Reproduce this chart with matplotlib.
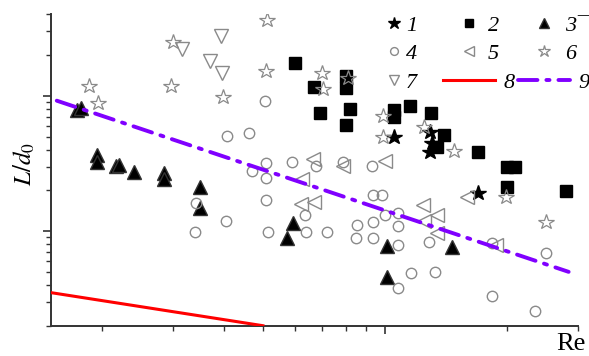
import numpy as np
import matplotlib
matplotlib.use('Agg')
import matplotlib.pyplot as plt
from matplotlib.legend_handler import HandlerLine2D

# values (Re, L/d0)
re_1 = [10530, 12910, 13060, 12910, 16970]
ld_1 = [4.97, 5.41, 4.49, 3.85, 1.91]

re_2 = [6000, 6680, 8010, 8010, 6910, 8200, 8010, 10530, 10530, 11530,
        12990, 13980, 13440, 16970, 20010, 20940, 20010, 27980]
ld_2 = [17.55, 11.66, 14.06, 11.46, 7.48, 8.01, 6.10, 7.88, 6.99, 8.43,
        7.48, 5.14, 4.19, 3.85, 2.98, 2.98, 2.12, 1.98]

re_3 = [1736, 1776, 1945, 1945, 2167, 2204, 2400, 2846, 2846, 3493,
        3493, 5929, 5728, 10110, 10110, 14640]
ld_3 = [7.88, 8.15, 3.66, 3.24, 3.03, 3.08, 2.74, 2.69, 2.43, 2.12,
        1.48, 1.146, 0.887, 0.774, 0.456, 0.761]

re_4 = [5057, 4074, 4616, 5085, 5892, 4695, 5085, 3415, 3396, 4050,
        5085, 5144, 6757, 7877, 9288, 9340, 9830, 6346, 6382, 7190,
        8528, 8480, 9340, 9340, 10000, 10770, 10770, 10770, 12840, 11590,
        13290, 10770, 18370, 24980, 18370, 23460]
ld_4 = [9.18, 5.06, 5.32, 3.19, 3.24, 2.78, 2.47, 1.61, 0.983, 1.186,
        1.70, 0.983, 3.03, 3.24, 3.03, 1.85, 1.85, 1.31, 0.983, 0.983,
        1.108, 0.887, 1.166, 0.887, 1.31, 1.36, 1.089, 0.788, 0.829, 0.489,
        0.497, 0.378, 0.815, 0.687, 0.330, 0.2555]

re_5 = [6643, 7877, 10000, 6239, 6203, 6680, 12410, 13440, 12480, 13440, 15940, 18790]
ld_5 = [3.41, 3.03, 3.30, 2.43, 1.585, 1.64, 1.558, 1.31, 1.186, 0.966, 1.786, 0.788]

re_6 = [2996, 1858, 1956, 2962, 3981, 5113, 5085, 6990, 7030, 8100,
        9887, 9887, 12480, 14800, 19900, 24980]
ld_6 = [25.1, 11.86, 8.87, 11.86, 9.83, 36.6, 15.32, 14.8, 11.27, 13.6,
        7.11, 4.97, 5.89, 3.91, 1.786, 1.166]

re_7 = [3154, 3936, 3698, 3958]
ld_7 = [22.3, 27.8, 18.2, 14.8]

# correlation lines
re_8 = [1500, 5000]
ld_8 = [0.351, 0.2]
re_9 = [1550, 28400]
ld_9 = [9.2, 0.5]

labels = ['1', '2', '3\u00af', '4', '5', '6', '7', '8', '9']

plt.rcParams['mathtext.fontset'] = 'stix'


class MarkerRight(HandlerLine2D):
    # put the marker a bit nearer the text, like the original legend
    def get_xdata(self, legend, xdescent, ydescent, width, height, fontsize):
        xd, xm = super().get_xdata(legend, xdescent, ydescent, width, height, fontsize)
        return xd, np.array([-xdescent + 0.6 * width])


def main():
    fig = plt.figure(figsize=(5.89, 3.56), dpi=100)
    ax = fig.add_axes([0.0866, 0.0851, 0.8952, 0.8747])

    gray = '#8a8a8a'
    h1, = ax.plot(re_1, ld_1, ls='none', marker='*', ms=11.5, color='k', mec='k')
    h2, = ax.plot(re_2, ld_2, ls='none', marker='s', ms=8, color='k', mec='k')
    h3, = ax.plot(re_3, ld_3, ls='none', marker='^', ms=10, color='k', mec='#333333')
    h4, = ax.plot(re_4, ld_4, ls='none', marker='o', ms=7.5, mfc='none', mec=gray, mew=1.0)
    h5, = ax.plot(re_5, ld_5, ls='none', marker='<', ms=9.5, mfc='none', mec=gray, mew=1.0)
    h6, = ax.plot(re_6, ld_6, ls='none', marker='*', ms=11.5, mfc='none', mec=gray, mew=0.9)
    h7, = ax.plot(re_7, ld_7, ls='none', marker='v', ms=10.5, mfc='none', mec=gray, mew=1.0)
    h8, = ax.plot(re_8, ld_8, color='#ff0000', lw=2.2, zorder=4)
    h9, = ax.plot(re_9, ld_9, color='#8000ff', lw=2.8, ls=(0, (5, 2.3, 0.8, 2.3)),
                  dash_capstyle='round', zorder=4)

    ax.set_xscale('log')
    ax.set_yscale('log')
    ax.set_xlim(1500, 30000)
    ax.set_ylim(0.2, 40)

    for s in ['top', 'right']:
        ax.spines[s].set_visible(False)
    for s in ['left', 'bottom']:
        ax.spines[s].set_color('#333333')
        ax.spines[s].set_linewidth(1.4)
    ax.tick_params(which='both', direction='out', color='#333333',
                   labelbottom=False, labelleft=False)
    ax.tick_params(which='major', length=6, width=1.2)
    ax.tick_params(which='minor', length=3.5, width=1.0)

    ax.set_ylabel(r'$L/d_0$', fontsize=18)
    ax.yaxis.set_label_coords(-0.026, 0.52)
    ax.set_xlabel('Re', fontsize=19, family='Liberation Serif', ha='right')
    ax.xaxis.set_label_coords(1.013, -0.022)
    ax.xaxis.label.set_va('top')

    hs = [h1, h2, h3, h4, h5, h6, h7, h8, h9]
    order = [0, 3, 6, 1, 4, 7, 2, 5, 8]
    hmap = {h: MarkerRight(numpoints=1) for h in [h1, h2, h3, h4, h5, h6, h7]}
    leg = ax.legend([hs[i] for i in order], [labels[i] for i in order], ncol=3,
                    handler_map=hmap, frameon=False, markerscale=0.75,
                    prop={'family': 'Liberation Serif', 'style': 'italic', 'size': 16},
                    handlelength=2.34, handletextpad=0.36, columnspacing=0.18,
                    labelspacing=0.36, borderpad=0, borderaxespad=0,
                    loc='upper left', bbox_to_anchor=(368 / 589, 1 - 15 / 356),
                    bbox_transform=fig.transFigure)
    # marker entries: text sits closer to the marker
    shift = {'1': -22, '4': -22, '7': -22, '2': -15, '5': -15, '3\u00af': -13, '6': -13}
    for t in leg.get_texts():
        if t.get_text() in shift:
            t.set_position((shift[t.get_text()], 0))

    fig.savefig('out.png', dpi=100)


if __name__ == '__main__':
    main()
